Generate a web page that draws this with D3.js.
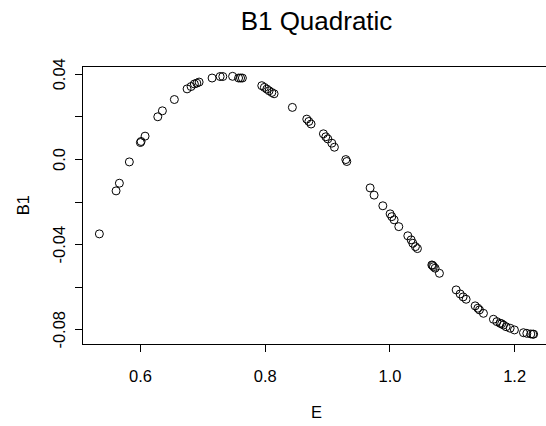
<!DOCTYPE html>
<html>
<head>
<meta charset="utf-8">
<script src="https://cdn.jsdelivr.net/npm/d3@7/dist/d3.min.js"></script>
<style>
  html, body { margin: 0; padding: 0; background: #fff; }
  svg { display: block; }
  text { font-family: "Liberation Sans", Arial, sans-serif; fill: #000; }
</style>
</head>
<body>
<svg id="chart" width="546" height="426"></svg>
<script>
// Observed E values
const E = [
  0.5347, 0.5615, 0.5668, 0.5828, 0.6005, 0.6016, 0.6080, 0.6284, 0.6358, 0.6550,
  0.6754, 0.6818, 0.6871, 0.6910, 0.6947, 0.7155, 0.7284, 0.7327, 0.7484, 0.7580,
  0.7612, 0.7641, 0.7952, 0.7994, 0.8033, 0.8070, 0.8113, 0.8150, 0.8443, 0.8674,
  0.8707, 0.8743, 0.8941, 0.8979, 0.9011, 0.9076, 0.9117, 0.9300, 0.9316, 0.9690,
  0.9754, 0.9894, 1.0011, 1.0038, 1.0075, 1.0150, 1.0295, 1.0348, 1.0375, 1.0417,
  1.0449, 1.0680, 1.0693, 1.0706, 1.0733, 1.0802, 1.1070, 1.1134, 1.1182, 1.1230,
  1.1375, 1.1418, 1.1444, 1.1508, 1.1668, 1.1723, 1.1776, 1.1800, 1.1829, 1.1872,
  1.1936, 1.2005, 1.2150, 1.2204, 1.2268, 1.2300, 1.2313
];
// Matching B1 values
const B1 = [
  -0.0352, -0.0150, -0.0114, -0.0014, 0.0077, 0.0082, 0.0107, 0.0198, 0.0226, 0.0279,
  0.0329, 0.0340, 0.0352, 0.0356, 0.0361, 0.0380, 0.0387, 0.0387, 0.0388, 0.0380,
  0.0380, 0.0380, 0.0344, 0.0336, 0.0328, 0.0320, 0.0312, 0.0306, 0.0242, 0.0187,
  0.0176, 0.0164, 0.0118, 0.0104, 0.0094, 0.0074, 0.0055, -0.0003, -0.0012, -0.0136,
  -0.0170, -0.0220, -0.0258, -0.0271, -0.0286, -0.0318, -0.0361, -0.0380, -0.0396, -0.0412,
  -0.0421, -0.0498, -0.0500, -0.0506, -0.0513, -0.0537, -0.0615, -0.0634, -0.0648, -0.0659,
  -0.0690, -0.0701, -0.0709, -0.0725, -0.0753, -0.0764, -0.0772, -0.0774, -0.0780, -0.0788,
  -0.0795, -0.0803, -0.0816, -0.0819, -0.0822, -0.0823, -0.0823
];

const xTicks = [0.6, 0.8, 1.0, 1.2];
const xTickLabels = ["0.6", "0.8", "1.0", "1.2"];
const yTicks = [-0.08, -0.06, -0.04, -0.02, 0.0, 0.02, 0.04];
const yTickLabels = ["-0.08", "", "-0.04", "", "0.0", "", "0.04"];

const title = "B1 Quadratic";
const xTitle = "E";
const yTitle = "B1";

const svg = d3.select("#chart");
const plot = { left: 82, right: 551, top: 66, bottom: 344.5 };

// pad the data range by 4% on each side
function padded(vals) {
  const [lo, hi] = d3.extent(vals);
  const p = (hi - lo) * 0.04;
  return [lo - p, hi + p];
}

const x = d3.scaleLinear().domain(padded(E)).range([plot.left, plot.right]);
const y = d3.scaleLinear().domain(padded(B1)).range([plot.bottom, plot.top]);

const fontTick = 16.5;

// x axis
const xAxis = svg.append("g")
  .attr("transform", `translate(0,${plot.bottom})`)
  .call(d3.axisBottom(x).tickValues(xTicks)
    .tickFormat((d, i) => xTickLabels[i]).tickSize(7).tickPadding(19));
xAxis.select(".domain").remove();
xAxis.selectAll("line").attr("stroke", "#000").attr("shape-rendering", "crispEdges");
xAxis.selectAll("text").attr("font-size", fontTick)
  .attr("font-family", "Liberation Sans, Arial, sans-serif").attr("fill", "#000");

// y axis
const yAxis = svg.append("g")
  .attr("transform", `translate(${plot.left},0)`)
  .call(d3.axisLeft(y).tickValues(yTicks)
    .tickFormat((d, i) => yTickLabels[i]).tickSize(7).tickPadding(0));
yAxis.select(".domain").remove();
yAxis.selectAll("line").attr("stroke", "#000").attr("shape-rendering", "crispEdges");
yAxis.selectAll("text")
  .attr("font-size", fontTick)
  .attr("font-family", "Liberation Sans, Arial, sans-serif").attr("fill", "#000")
  .attr("x", null).attr("dy", null)
  .attr("text-anchor", "middle")
  .attr("transform", "translate(-17,0) rotate(-90)");

// plot frame
svg.append("rect")
  .attr("x", plot.left).attr("y", plot.top)
  .attr("width", plot.right - plot.left).attr("height", plot.bottom - plot.top)
  .attr("fill", "none").attr("stroke", "#000").attr("stroke-width", 1)
  .attr("shape-rendering", "crispEdges");

// points
svg.append("g").selectAll("circle")
  .data(E.map((e, i) => [e, B1[i]]))
  .join("circle")
  .attr("cx", d => x(d[0]))
  .attr("cy", d => y(d[1]))
  .attr("r", 4)
  .attr("fill", "none")
  .attr("stroke", "#000")
  .attr("stroke-width", 1);

// titles
svg.append("text")
  .attr("x", (plot.left + plot.right) / 2).attr("y", 30)
  .attr("text-anchor", "middle").attr("font-size", 26)
  .text(title);

svg.append("text")
  .attr("x", (plot.left + plot.right) / 2).attr("y", 418)
  .attr("text-anchor", "middle").attr("font-size", fontTick)
  .text(xTitle);

svg.append("text")
  .attr("transform", `translate(29,${(plot.top + plot.bottom) / 2}) rotate(-90)`)
  .attr("text-anchor", "middle").attr("font-size", fontTick)
  .text(yTitle);
</script>
</body>
</html>
